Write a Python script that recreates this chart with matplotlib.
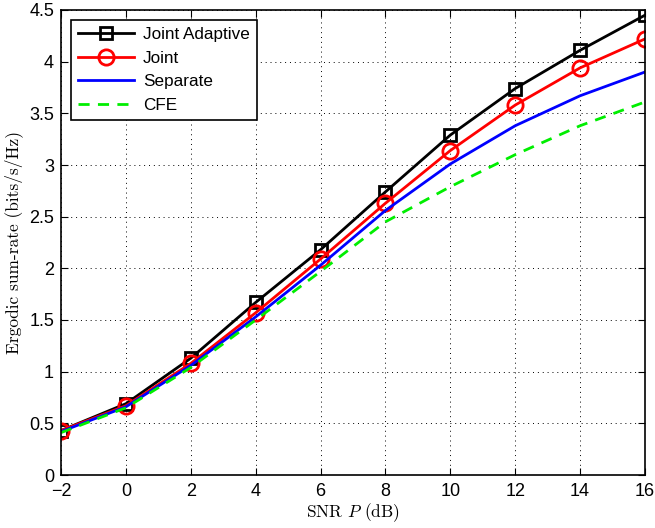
import numpy as np
import matplotlib
matplotlib.use("Agg")
import matplotlib.pyplot as plt

plt.rcParams['mathtext.fontset'] = 'cm'
plt.rcParams['axes.unicode_minus'] = True

snr = [-2, 0, 2, 4, 6, 8, 10, 12, 14, 16]
joint_adaptive = [0.43, 0.69, 1.13, 1.67, 2.18, 2.74, 3.29, 3.74, 4.11, 4.45]
joint = [0.43, 0.67, 1.08, 1.57, 2.09, 2.63, 3.14, 3.58, 3.94, 4.22]
separate = [0.42, 0.66, 1.06, 1.53, 2.03, 2.56, 3.01, 3.38, 3.67, 3.90]
cfe = [0.41, 0.65, 1.04, 1.50, 1.97, 2.45, 2.79, 3.10, 3.38, 3.61]

fig = plt.figure(figsize=(6.55, 5.28), dpi=100)
ax = fig.add_axes([61/655, 53/528, 584/655, 465/528])

ax.plot(snr, joint_adaptive, 'k-s', linewidth=2, markersize=9, markerfacecolor='none',
        markeredgewidth=2, label='Joint Adaptive')
ax.plot(snr, joint, 'r-o', linewidth=2, markersize=11, markerfacecolor='none',
        markeredgewidth=2, label='Joint')
ax.plot(snr, separate, 'b-', linewidth=2, label='Separate')
ax.plot(snr, cfe, '--', color='#00ee00', linewidth=2, dashes=(4, 3), label='CFE')

ax.set_xlim(-2, 16)
ax.set_ylim(0, 4.5)
ax.set_xticks(np.arange(-2, 17, 2))
ax.set_yticks(np.arange(0, 4.6, 0.5))
ax.set_xticklabels(['\u22122'] + [str(v) for v in range(0, 17, 2)])
ax.set_yticklabels(['0', '0.5', '1', '1.5', '2', '2.5', '3', '3.5', '4', '4.5'])
ax.tick_params(direction='in', top=True, right=True, labelsize=13, length=5)
ax.tick_params(axis='x', pad=6)
ax.tick_params(axis='y', pad=5)
for lab in ax.get_xticklabels() + ax.get_yticklabels():
    lab.set_fontfamily('Liberation Sans')
ax.grid(True, linestyle=(0, (1, 4)), color='black', linewidth=0.7)
for s in ax.spines.values():
    s.set_linewidth(1.2)

ax.set_xlabel(r'SNR $P$ (dB)', fontsize=12.5, family='cmr10', labelpad=1)
ax.set_ylabel('Ergodic sum-rate (bits/s/Hz)', fontsize=12.5, family='cmr10', labelpad=4)

leg = ax.legend(loc='upper left', prop={'family': 'Liberation Sans', 'size': 12.3},
                fancybox=False, edgecolor='black', framealpha=1, handlelength=3.3,
                handletextpad=0.5, borderaxespad=0.6, labelspacing=0.5)
leg.get_frame().set_linewidth(1.2)

fig.savefig('out.png', dpi=100)
